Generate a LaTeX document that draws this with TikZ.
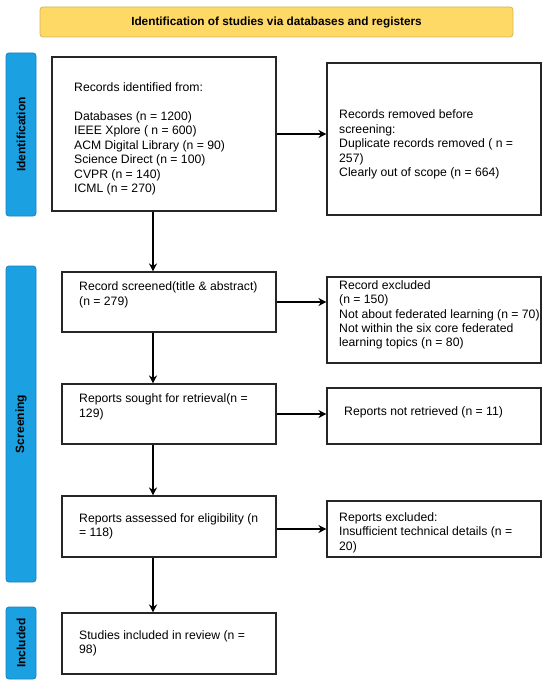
\documentclass[tikz,border=0pt]{standalone}
\usepackage{fontspec}
\setmainfont{Liberation Sans}
\usetikzlibrary{arrows.meta}
\definecolor{sideblue}{HTML}{1BA1E2}
\definecolor{sideline}{HTML}{1A7FC0}
\definecolor{titlefill}{HTML}{FFD966}
\definecolor{titleline}{HTML}{D6B656}
\tikzset{
  box/.style={draw=black!85, line width=1.1pt, rectangle, inner sep=0pt},
  txt/.style={anchor=west, align=left, inner sep=0pt, font=\fontsize{12.2}{14.4}\selectfont},
  side/.style={draw=sideline, fill=sideblue, rounded corners=3pt, line width=0.8pt, minimum width=30, inner sep=0pt},
  sidetxt/.style={rotate=90, font=\fontsize{12}{14.4}\selectfont\bfseries},
  arr/.style={line width=1.2pt, -{Stealth[length=8pt,width=8pt]}},
}
\begin{document}
\begin{tikzpicture}[x=1pt,y=-1pt]
\useasboundingbox (0,0) rectangle (550,685);
% title
\node[draw=titleline, fill=titlefill, rounded corners=3pt, line width=0.8pt, minimum width=473, minimum height=30, inner sep=0pt, font=\fontsize{11.8}{14.4}\selectfont\bfseries] (title) at (276.5,22) {Identification of studies via databases and registers};
% side bars
\node[side, minimum height=163] (s1) at (21,134.5) {};
\node[sidetxt] (s1t) at (s1.center) {Identification};
\node[side, minimum height=316] (s2) at (21,424) {};
\node[sidetxt] (s2t) at (s2.center) {Screening};
\node[side, minimum height=72] (s3) at (21,643) {};
\node[sidetxt] (s3t) at (s3.center) {Included};
% boxes
\node[box, minimum width=224, minimum height=154] (b1) at (164,134) {};
\node[box, minimum width=214, minimum height=152] (r1) at (434,139) {};
\node[box, minimum width=214, minimum height=60] (b2) at (169,302) {};
\node[box, minimum width=214, minimum height=86] (r2) at (434,320) {};
\node[box, minimum width=214, minimum height=60] (b3) at (169,414) {};
\node[box, minimum width=214, minimum height=56] (r3) at (434,416) {};
\node[box, minimum width=214, minimum height=61] (b4) at (169,526.5) {};
\node[box, minimum width=214, minimum height=56] (r4) at (434,529) {};
\node[box, minimum width=214, minimum height=61] (b5) at (169,643.5) {};
% texts
\node[txt] (t1) at (74,139) {Records identified from:\\[14.4pt]Databases (n = 1200)\\IEEE Xplore ( n = 600)\\ACM Digital Library (n = 90)\\Science Direct (n = 100)\\CVPR (n = 140)\\ICML (n = 270)};
\node[txt] (u1) at (339,144.5) {Records removed before\\screening:\\Duplicate records removed ( n =\\257)\\Clearly out of scope (n = 664)};
\node[txt] (t2) at (79,295) {Record screened(title \& abstract)\\(n = 279)};
\node[txt] (u2) at (339,315) {Record excluded\\(n = 150)\\Not about federated learning (n = 70)\\Not within the six core federated\\learning topics (n = 80)};
\node[txt] (t3) at (79,407) {Reports sought for retrieval(n =\\129)};
\node[txt] (u3) at (344,412) {Reports not retrieved (n = 11)};
\node[txt] (t4) at (79,526.5) {Reports assessed for eligibility (n\\= 118)};
\node[txt] (u4) at (339,532.5) {Reports excluded:\\Insufficient technical details (n =\\20)};
\node[txt] (t5) at (79,643.5) {Studies included in review (n =\\98)};
% connectors
\coordinate (ax) at (153,0);
\draw[arr] (b1.south -| ax) -- (b2.north -| ax);
\draw[arr] (b2.south -| ax) -- (b3.north -| ax);
\draw[arr] (b3.south -| ax) -- (b4.north -| ax);
\draw[arr] (b4.south -| ax) -- (b5.north -| ax);
\draw[arr] (b1.east) -- (b1.east -| r1.west);
\draw[arr] (b2.east) -- (b2.east -| r2.west);
\draw[arr] (b3.east) -- (b3.east -| r3.west);
\draw[arr] (b4.east |- r4.west) -- (r4.west);
\end{tikzpicture}
\end{document}
